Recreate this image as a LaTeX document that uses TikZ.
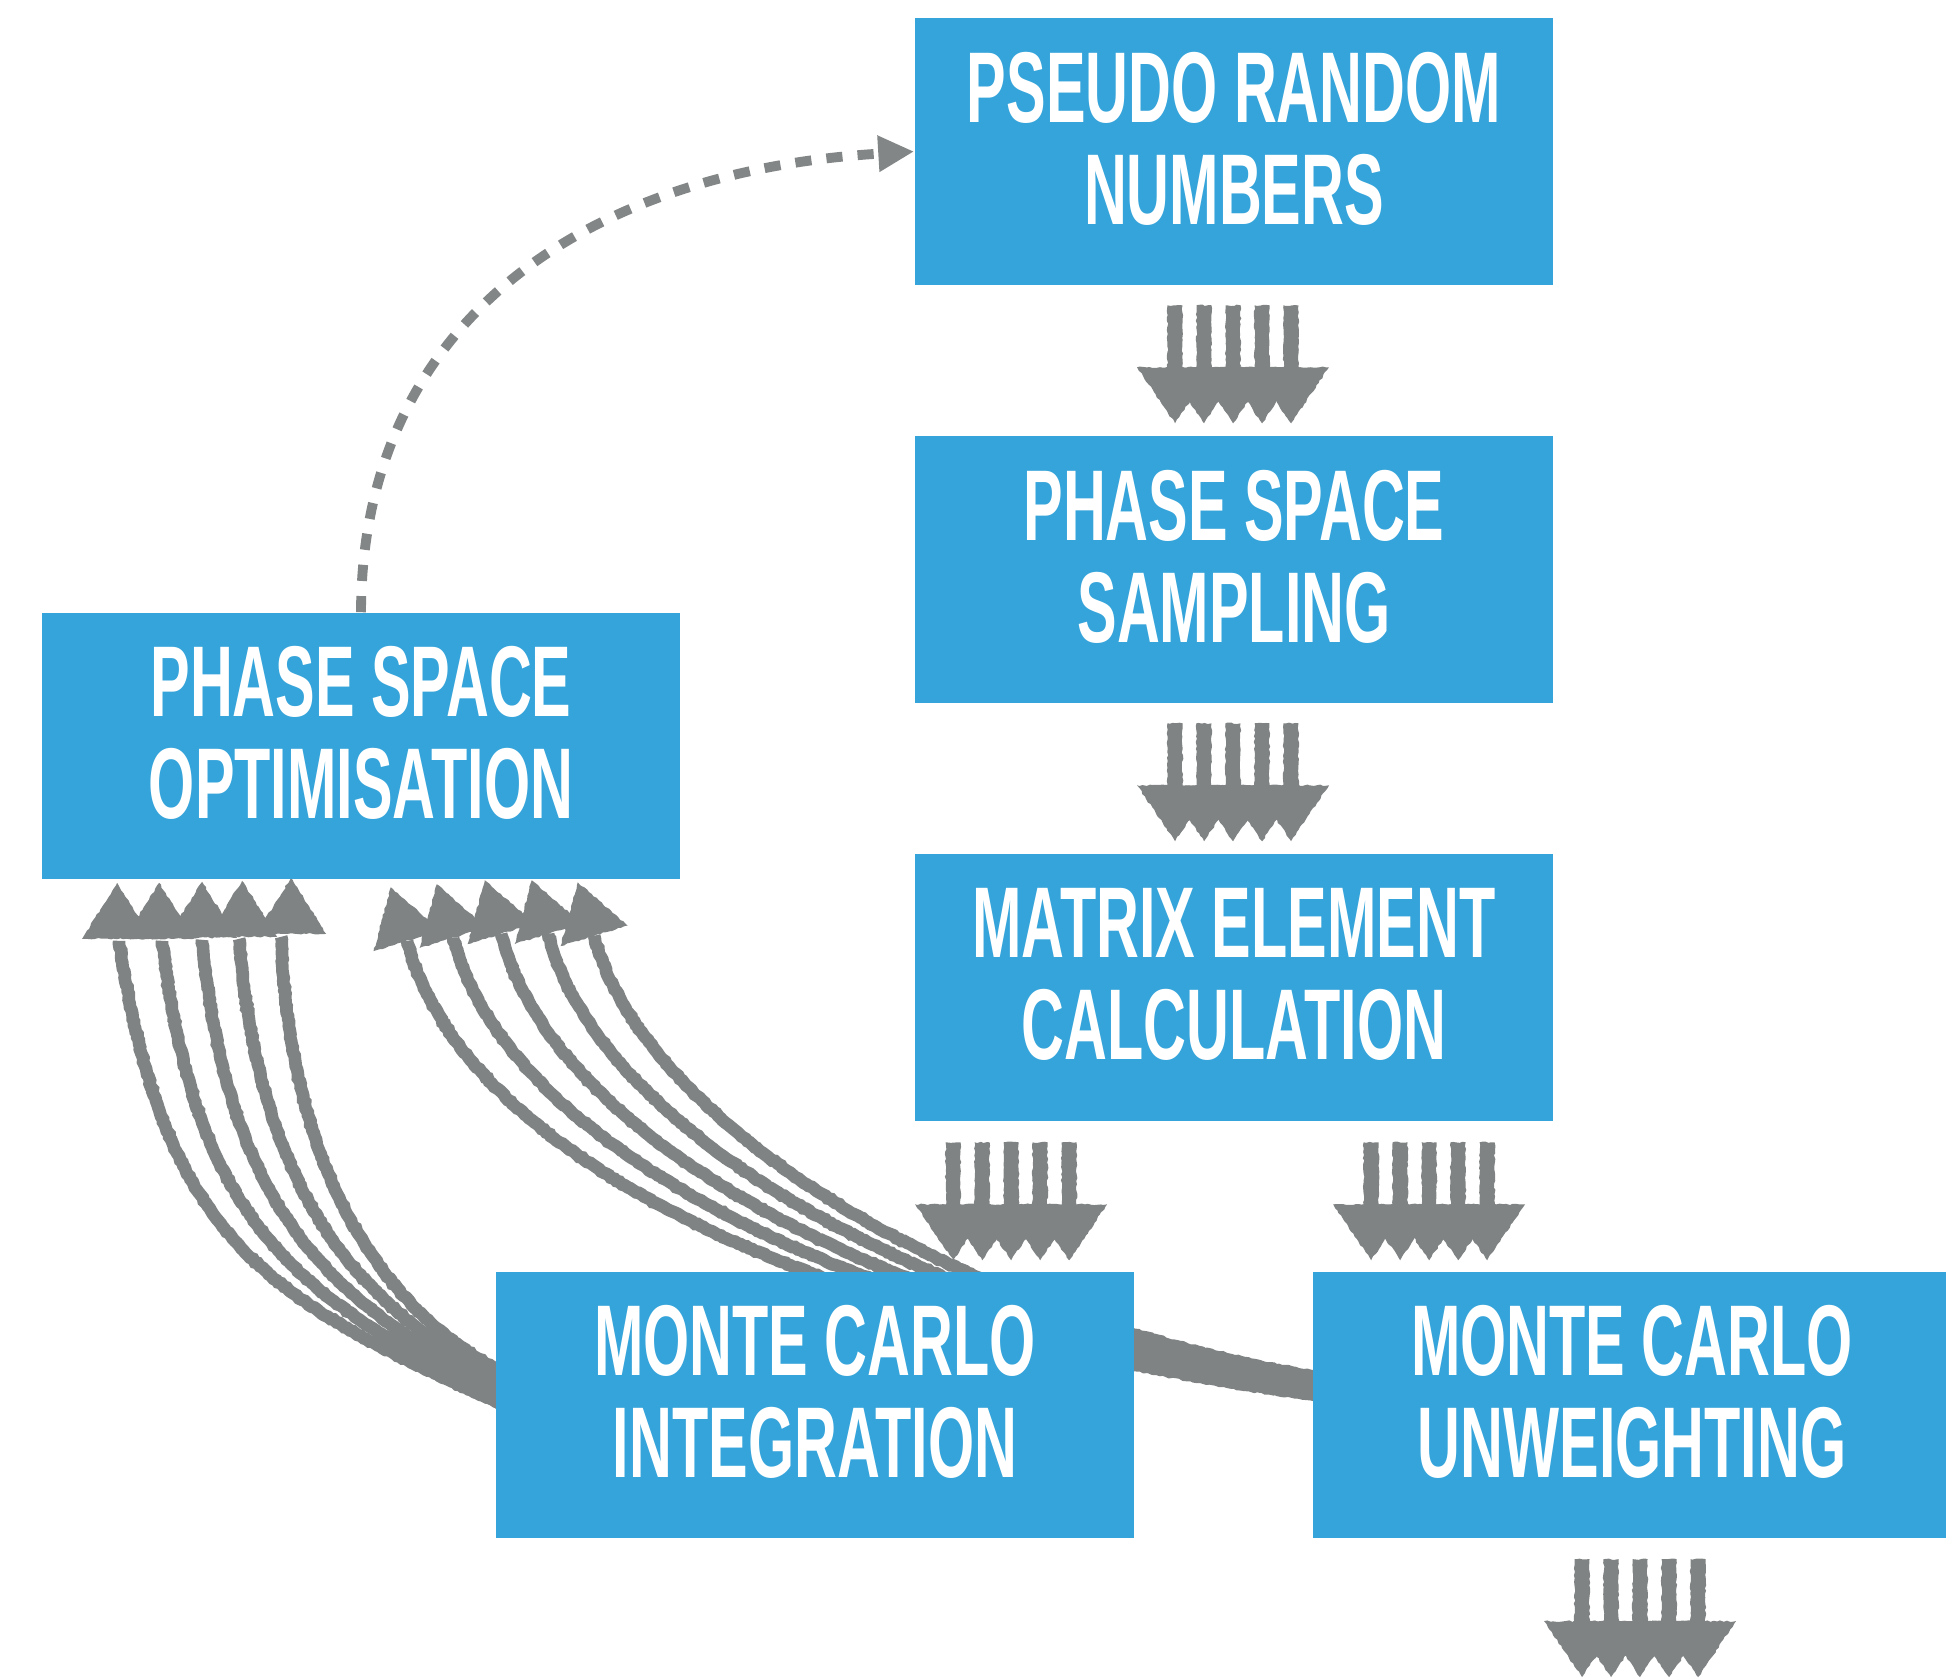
\documentclass[tikz,border=0pt]{standalone}
\usepackage{fontspec}
\newfontfamily\labelfont{Liberation Sans}[FakeStretch=0.59]
\usetikzlibrary{arrows.meta,calc,backgrounds,decorations.pathmorphing}

\definecolor{boxblue}{HTML}{35A4DA}
\definecolor{chalk}{HTML}{808384}
\definecolor{dashgray}{HTML}{838687}

\pgfmathsetseed{17}

\tikzset{
  stage/.style={fill=boxblue, draw=none, inner sep=0pt,
    minimum width=6.38cm, minimum height=2.66cm},
  stagetext/.style={text=white, align=center, inner sep=0pt,
    font=\labelfont\bfseries\fontsize{28.6pt}{29pt}\selectfont},
  rough/.style={decorate, decoration={random steps, segment length=0.9pt, amplitude=0.22pt}},
  chalkfill/.style={fill=chalk, rough},
  chalkline/.style={draw=chalk, line width=3.6pt, rough},
  feedback/.style={draw=dashgray, line width=2.8pt, dash pattern=on 4.6pt off 4.3pt,
    -{Triangle[length=10.2pt,width=9.7pt]}},
  % five parallel chalk arrows pointing down; origin = top centre of the stems
  downbundle/.pic={
    \foreach \i in {-2,...,2}{
      \fill[chalkfill] (29*\i-7.5,0) rectangle (29*\i+7.5,64);
    }
    \foreach \i in {-2,...,2}{
      \fill[chalkfill] (29*\i-38,62) -- (29*\i+38,62) -- (29*\i,118) -- cycle;
    }
  },
  % one chalk arrow head; origin = centre of its base
  uphead/.pic={
    \fill[chalkfill] (-35,0) -- (35,0) -- (0,-56) -- cycle;
  },
}

\begin{document}
\begin{tikzpicture}[x=0.01cm, y=-0.01cm]
\useasboundingbox (0,0) rectangle (1946,1678);

% stages
\node[stage] (prn) at (1234,151.5) {};
\node[stage] (pss) at (1234,569.5) {};
\node[stage] (mec) at (1234,987.5) {};
\node[stage] (pso) at (361,746) {};
\node[stage] (mci) at (815,1405.3) {};
\node[stage] (mcu) at (1632,1405.3) {};

\node[stagetext] (prn text) at ($(prn.center)+(0,-13)$) {PSEUDO RANDOM\\NUMBERS};
\node[stagetext] (pss text) at ($(pss.center)+(0,-13)$) {PHASE SPACE\\SAMPLING};
\node[stagetext] (mec text) at ($(mec.center)+(0,-13)$) {MATRIX ELEMENT\\CALCULATION};
\node[stagetext] (pso text) at ($(pso.center)+(0,-13)$) {PHASE SPACE\\OPTIMISATION};
\node[stagetext] (mci text) at ($(mci.center)+(0,-13)$) {MONTE CARLO\\INTEGRATION};
\node[stagetext] (mcu text) at ($(mcu.center)+(0,-13)$) {MONTE CARLO\\UNWEIGHTING};

\coordinate (out) at ($(mcu.south)+(8,140)$);

\begin{scope}[on background layer]
  \fill[white] (0,0) rectangle (1946,1678);

  % optimisation feeds back into the random number generation
  \draw[feedback] (pso.north) .. controls +(1,-290) and +(-330,20) .. (prn.west);

  % straight flow down the chain
  \pic at ($(prn.south)+(-1,20)$) {downbundle};
  \pic at ($(pss.south)+(-1,20)$) {downbundle};
  \pic at ($(mec.south west)+(97,21)$) {downbundle};
  \pic at ($(mec.south west)+(515,21)$) {downbundle};
  \pic at ($(mcu.south)+(8,20)$) {downbundle};

  % integration -> optimisation
  \coordinate (a0) at ($(pso.south west)+(78,61)$);
  \coordinate (a1) at ($(pso.south west)+(121,61)$);
  \coordinate (a2) at ($(pso.south west)+(161,60)$);
  \coordinate (a3) at ($(pso.south west)+(198,59)$);
  \coordinate (a4) at ($(pso.south west)+(240,57)$);
  \draw[chalkline] (a0) .. controls +(45,305) and +(-221,-101) .. ($(mci.west)+(0,-4)$) -- +(16,8);
  \draw[chalkline] (a1) .. controls +(33,281) and +(-197,-93) .. ($(mci.west)+(0,-12)$) -- +(16,8);
  \draw[chalkline] (a2) .. controls +(25,259) and +(-173,-85) .. ($(mci.west)+(0,-20)$) -- +(16,8);
  \draw[chalkline] (a3) .. controls +(19,236) and +(-150,-76) .. ($(mci.west)+(0,-29)$) -- +(16,8);
  \draw[chalkline] (a4) .. controls +(8,214) and +(-126,-68) .. ($(mci.west)+(0,-37)$) -- +(16,8);
  \pic at ($(a0)+(-2,-2)$) {uphead};
  \pic at ($(a1)+(-3,-2)$) {uphead};
  \pic at ($(a2)+(0,-2)$) {uphead};
  \pic at ($(a3)+(3,-2)$) {uphead};
  \pic at ($(a4)+(10,-3)$) {uphead};

  % unweighting -> optimisation, passing behind the integration stage
  \coordinate (b0) at ($(pso.south west)+(366,61)$);
  \coordinate (b1) at ($(pso.south west)+(412,58)$);
  \coordinate (b2) at ($(pso.south west)+(460,54)$);
  \coordinate (b3) at ($(pso.south west)+(507,54)$);
  \coordinate (b4) at ($(pso.south west)+(553,56)$);
  \draw[chalkline] (b0) .. controls +(62,240) and +(-433,-59) .. ($(mcu.west)+(0,-11)$) -- +(16,2);
  \draw[chalkline] (b1) .. controls +(58,225) and +(-420,-61) .. ($(mcu.west)+(0,-16)$) -- +(16,2);
  \draw[chalkline] (b2) .. controls +(53,212) and +(-408,-62) .. ($(mcu.west)+(0,-20)$) -- +(16,2);
  \draw[chalkline] (b3) .. controls +(48,194) and +(-395,-64) .. ($(mcu.west)+(0,-25)$) -- +(16,2);
  \draw[chalkline] (b4) .. controls +(45,175) and +(-383,-66) .. ($(mcu.west)+(0,-29)$) -- +(16,2);
  \foreach \c in {b0,b1,b2,b3,b4}{
    \pic[rotate=17] at (\c) {uphead};
  }
\end{scope}
\end{tikzpicture}
\end{document}
